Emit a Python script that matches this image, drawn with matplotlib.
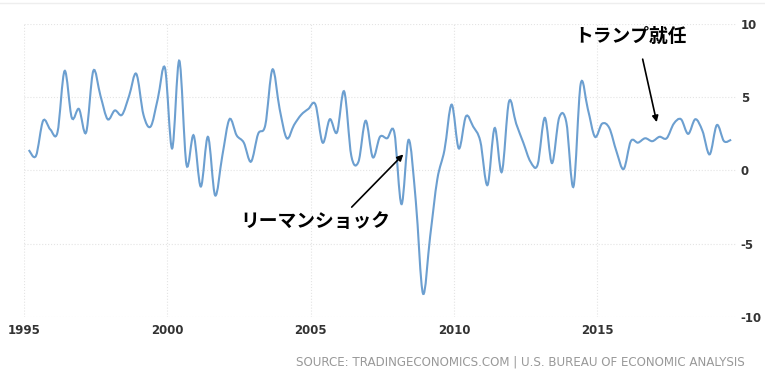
import matplotlib
matplotlib.use("Agg")
import matplotlib.pyplot as plt
from matplotlib.path import Path
from matplotlib.patches import PathPatch
from matplotlib.lines import Line2D
import numpy as np

plt.rcParams['font.family'] = ['DejaVu Sans']
plt.rcParams['axes.unicode_minus'] = False

# US GDP growth rate, quarterly (annualized), 1995Q1 - 2019Q3
years = list(range(1995, 2020))
gdp_growth = [
    1.4, 1.0, 3.4, 2.8,     # 1995
    2.6, 6.8, 3.6, 4.2,     # 1996
    2.6, 6.8, 5.1, 3.5,     # 1997
    4.1, 3.8, 5.1, 6.6,     # 1998
    3.8, 3.0, 4.9, 7.0,     # 1999
    1.5, 7.5, 0.4, 2.4,     # 2000
    -1.1, 2.3, -1.7, 1.0,   # 2001
    3.5, 2.4, 1.9, 0.6,     # 2002
    2.5, 3.1, 6.9, 4.2,     # 2003
    2.2, 3.1, 3.8, 4.2,     # 2004
    4.5, 1.9, 3.5, 2.6,     # 2005
    5.4, 1.0, 0.6, 3.4,     # 2006
    0.9, 2.3, 2.2, 2.6,     # 2007
    -2.3, 2.1, -2.1, -8.4,  # 2008
    -4.5, -0.6, 1.4, 4.5,   # 2009
    1.5, 3.7, 3.0, 2.0,     # 2010
    -1.0, 2.9, -0.1, 4.7,   # 2011
    3.2, 1.9, 0.6, 0.4,     # 2012
    3.6, 0.5, 3.6, 3.3,     # 2013
    -1.1, 5.9, 4.2, 2.3,    # 2014
    3.2, 2.9, 1.3, 0.1,     # 2015
    2.0, 1.9, 2.2, 2.0,     # 2016
    2.3, 2.2, 3.2, 3.5,     # 2017
    2.5, 3.5, 2.7, 1.1,     # 2018
    3.1, 2.0, 2.1,          # 2019
]
quarters = [(y, q) for y in years for q in range(1, 5)][:len(gdp_growth)]
x_ticks = [1995, 2000, 2005, 2010, 2015]
y_ticks = [-10, -5, 0, 5, 10]

# quarter plotted at its last month
xs = np.array([y + (3 * q - 1) / 12.0 for y, q in quarters])
ys = np.array(gdp_growth, dtype=float)


def spline_path(x, y):
    # catmull-rom curve through the points, as bezier segments
    p = np.column_stack([x, y])
    n = len(p)
    verts = [tuple(p[0])]
    codes = [Path.MOVETO]
    for i in range(1, n):
        p0 = p[i - 2] if i >= 2 else p[i - 1]
        p1 = p[i - 1]
        p2 = p[i]
        p3 = p[i + 1] if i + 1 < n else p[i]
        c1 = p1 + (p2 - p0) / 6.0
        c2 = p2 - (p3 - p1) / 6.0
        verts += [tuple(c1), tuple(c2), tuple(p2)]
        codes += [Path.CURVE4] * 3
    return Path(verts, codes)


fig = plt.figure(figsize=(7.65, 3.89), dpi=100)
ax = fig.add_axes([0.0314, 0.1851, 0.9316, 0.7532])

ax.add_patch(PathPatch(spline_path(xs, ys), facecolor='none',
                       edgecolor='#6c9fd0', lw=1.5, zorder=3))

ax.set_xlim(1995, 2019.86)
ax.set_ylim(-10, 10)
ax.set_xticks(x_ticks)
ax.set_yticks(y_ticks)
ax.yaxis.tick_right()
ax.tick_params(length=0, labelsize=8.5, labelcolor='#333333')
ax.tick_params(axis='x', pad=5)
ax.tick_params(axis='y', pad=3)
for lab in ax.get_xticklabels() + ax.get_yticklabels():
    lab.set_fontweight('bold')
ax.grid(True, color='#e4e4e4', lw=0.8, ls=':')
for s in ax.spines.values():
    s.set_visible(False)

jp = ['Noto Sans CJK JP', 'DejaVu Sans']
ax.annotate('', xy=(2008.23, 1.1), xytext=(2006.43, -2.5),
            arrowprops=dict(arrowstyle='-|>', color='black', lw=1.2,
                            mutation_scale=9, shrinkA=0, shrinkB=0))
ax.text(2005.15, -3.46, 'リーマンショック', family=jp, fontsize=13.5,
        fontweight='bold', ha='center', va='center')
ax.annotate('', xy=(2017.07, 3.3), xytext=(2016.58, 7.6),
            arrowprops=dict(arrowstyle='-|>', color='black', lw=1.2,
                            mutation_scale=9, shrinkA=0, shrinkB=0))
ax.text(2016.14, 9.17, 'トランプ就任', family=jp, fontsize=13.5,
        fontweight='bold', ha='center', va='center')

fig.add_artist(Line2D([0, 1], [0.9915, 0.9915], color='#eeeeee', lw=1))
fig.text(0.974, 0.069,
         'SOURCE: TRADINGECONOMICS.COM | U.S. BUREAU OF ECONOMIC ANALYSIS',
         ha='right', va='center', fontsize=8.6, color='#999999')

fig.savefig('out.png', dpi=100)
